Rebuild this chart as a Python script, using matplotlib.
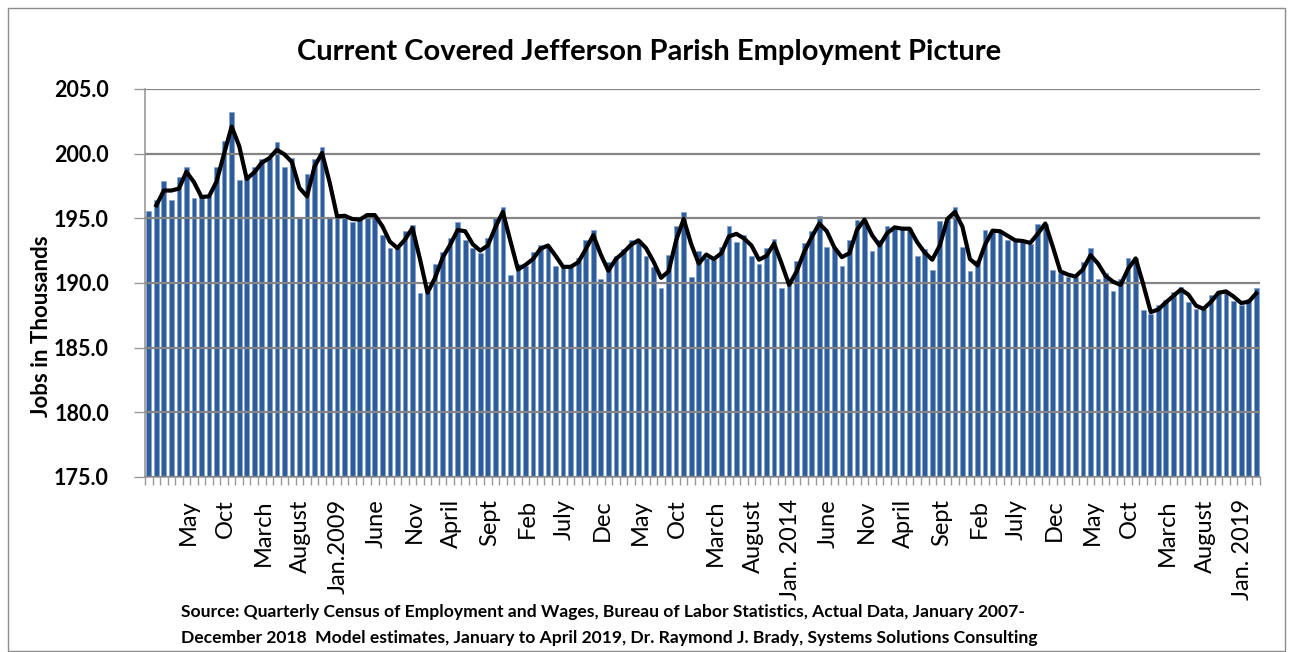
import numpy as np
import pandas as pd
import matplotlib.pyplot as plt
import matplotlib.transforms as mtransforms
from matplotlib.patches import Rectangle

plt.rcParams['font.family'] = ['Lato', 'DejaVu Sans']

# monthly covered employment, thousands (Jan 2007 - Apr 2019)
y2007 = [195.6, 196.4, 197.9, 196.4, 198.2, 199.0, 196.6, 196.7, 196.7, 199.0, 201.0, 203.2]
y2008 = [198.0, 198.1, 199.0, 199.6, 199.7, 200.9, 199.0, 199.7, 195.0, 198.4, 199.6, 200.5]
y2009 = [195.1, 195.2, 195.2, 194.7, 195.1, 195.4, 195.1, 193.7, 192.7, 192.7, 194.0, 194.5]
y2010 = [189.2, 189.3, 191.5, 192.4, 193.5, 194.7, 193.3, 192.7, 192.3, 193.5, 195.1, 195.9]
y2011 = [190.6, 191.5, 191.3, 192.4, 192.9, 192.9, 191.3, 191.2, 191.3, 191.9, 193.3, 194.1]
y2012 = [190.3, 191.6, 192.1, 192.6, 193.3, 193.3, 192.1, 191.2, 189.6, 192.2, 194.4, 195.5]
y2013 = [190.5, 192.5, 191.9, 191.8, 192.8, 194.4, 193.2, 193.7, 192.1, 191.5, 192.7, 193.4]
y2014 = [189.6, 190.1, 191.7, 193.1, 194.0, 195.2, 192.8, 192.7, 191.3, 193.3, 194.9, 194.9]
y2015 = [192.5, 193.3, 194.4, 194.2, 194.2, 194.2, 192.1, 192.6, 191.0, 194.8, 195.1, 195.9]
y2016 = [192.8, 190.9, 191.8, 194.1, 194.0, 194.0, 193.3, 193.3, 193.2, 193.0, 194.6, 194.6]
y2017 = [191.0, 190.8, 190.5, 190.5, 191.6, 192.7, 190.3, 190.8, 189.4, 190.3, 191.9, 191.9]
y2018 = [187.9, 187.6, 188.3, 188.7, 189.3, 189.7, 188.5, 188.0, 188.0, 189.1, 189.4, 189.3]
y2019 = [188.6, 188.3, 188.8, 189.6]

# every fifth month is labelled, starting May 2007
tick_labels = ['May', 'Oct', 'March', 'August', 'Jan.2009', 'June', 'Nov', 'April', 'Sept',
               'Feb', 'July', 'Dec', 'May', 'Oct', 'March', 'August', 'Jan. 2014', 'June',
               'Nov', 'April', 'Sept', 'Feb', 'July', 'Dec', 'May', 'Oct', 'March', 'August',
               'Jan. 2019']

jobs = pd.Series(np.concatenate([y2007, y2008, y2009, y2010, y2011, y2012, y2013,
                                 y2014, y2015, y2016, y2017, y2018, y2019]))
avg2 = jobs.rolling(2).mean()
x = np.arange(len(jobs))

fig = plt.figure(figsize=(12.92, 6.52), dpi=100)
ax = fig.add_axes([145/1292, 1-477/652, 1115/1292, 388/652])

ax.bar(x, jobs - 175, bottom=175, width=0.62, color='#2f5d9c',
       edgecolor='#7c9fd0', linewidth=0.4, zorder=1)
ax.plot(x, avg2, color='black', lw=3, zorder=3)

ax.set_ylim(175, 205)
ax.set_xlim(-0.5, len(jobs) - 0.5)
ax.set_yticks(np.arange(175, 205.1, 5))
ax.set_yticklabels([f'{v:.1f}' for v in np.arange(175, 205.1, 5)],
                   fontsize=15.5, fontweight='bold')
ax.yaxis.grid(True, color='#858585', lw=1.6, zorder=2)
ax.set_axisbelow(False)

lab_pos = np.arange(4, len(jobs), 5)[:len(tick_labels)]
ax.set_xticks(lab_pos)
ax.set_xticks(np.arange(-0.5, len(jobs), 1), minor=True)
ax.tick_params(axis='x', which='major', length=0, pad=16)
ax.tick_params(axis='x', which='minor', length=6, color='#999999', width=1)
ax.tick_params(axis='y', length=8, color='#999999', width=1, pad=18)
ax.set_xticklabels(tick_labels, rotation=90, fontsize=17, rotation_mode='anchor',
                   ha='right', va='center')
shift = mtransforms.ScaledTranslation(9/100, 0, fig.dpi_scale_trans)
for t in ax.get_xticklabels():
    t.set_transform(t.get_transform() + shift)

for s in ['top', 'right']:
    ax.spines[s].set_visible(False)
for s in ['left', 'bottom']:
    ax.spines[s].set_color('#999999')
    ax.spines[s].set_linewidth(1.2)

ax.set_ylabel('Jobs in Thousands', fontsize=16, fontweight='bold')
ax.yaxis.set_label_coords(52/1292, 0.5, transform=fig.transFigure)

fig.text(0.5023, 1-52/652, 'Current Covered Jefferson Parish Employment Picture',
         ha='center', va='center', fontsize=21, fontweight='bold')
fig.text(181/1292, 1-612/652,
         'Source: Quarterly Census of Employment and Wages, Bureau of Labor Statistics, Actual Data, January 2007-',
         ha='left', va='center', fontsize=12.6, fontweight='bold')
fig.text(181/1292, 1-638/652,
         'December 2018  Model estimates, January to April 2019, Dr. Raymond J. Brady, Systems Solutions Consulting',
         ha='left', va='center', fontsize=12.6, fontweight='bold')

fig.patches.append(Rectangle((8/1292, 1/652), 1277/1292, 643/652, transform=fig.transFigure,
                             fill=False, edgecolor='#8c8c8c', lw=1))

fig.savefig('out.png', dpi=100)
